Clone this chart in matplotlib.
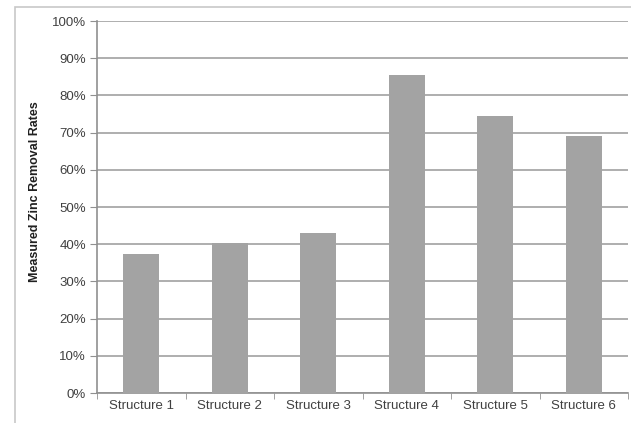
import numpy as np
import matplotlib
matplotlib.use("Agg")
from matplotlib import pyplot as plt
from matplotlib.ticker import FuncFormatter, FixedLocator

#categories and measured removal rates (fractions)
structures = ["Structure 1", "Structure 2", "Structure 3",
              "Structure 4", "Structure 5", "Structure 6"]
removal = [0.374, 0.403, 0.430, 0.855, 0.744, 0.692]

plt.rcParams['font.family'] = ['Liberation Sans', 'DejaVu Sans']

fig = plt.figure(figsize=(6.31, 4.23), dpi=100)
ax = fig.add_axes([97/631, 30/423, 531/631, 372/423])

#outer chart frame (only left and top edges fall inside the picture)
frame = plt.Rectangle((15/631, -0.05), 1.0, (423 - 7)/423 + 0.05,
                      transform=fig.transFigure, fill=False,
                      edgecolor="#c8c8c8", linewidth=1.2)
fig.add_artist(frame)

x = np.arange(len(structures))
ax.bar(x, removal, width=0.41, color="#a3a3a3", zorder=3)

ax.set_xlim(-0.5, len(structures) - 0.5)
ax.set_ylim(0, 1.0)
ax.set_yticks(np.arange(0, 1.01, 0.1))
ax.yaxis.set_major_formatter(FuncFormatter(lambda v, p: "%d%%" % round(v*100)))
ax.set_xticks(x)
ax.set_xticklabels(structures)
ax.xaxis.set_minor_locator(FixedLocator(np.arange(-0.5, len(structures), 1.0)))

ax.grid(axis="y", color="#a8a8a8", linewidth=1.3, zorder=0)
for s in ["top", "right"]:
    ax.spines[s].set_visible(False)
for s in ["left", "bottom"]:
    ax.spines[s].set_color("#909090")
    ax.spines[s].set_linewidth(1.2)

ax.tick_params(axis="y", which="major", length=5, color="#909090",
               labelsize=9.5, labelcolor="#404040", pad=3)
ax.tick_params(axis="x", which="major", length=0, labelsize=9.5,
               labelcolor="#404040", pad=5)
ax.tick_params(axis="x", which="minor", length=4, color="#909090")

ax.set_ylabel("Measured Zinc Removal Rates", fontsize=9, fontweight="bold",
              color="#202020", va="center")
ax.yaxis.set_label_coords(-0.117, 0.54)

plt.savefig("out.png", dpi=100)
